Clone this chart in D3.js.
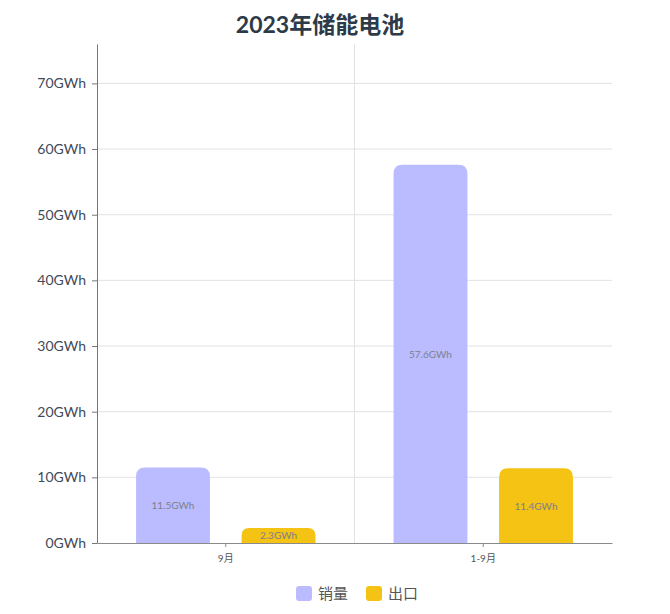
<!DOCTYPE html>
<html>
<head>
<meta charset="utf-8">
<script src="https://cdn.jsdelivr.net/npm/d3@7.9.0/dist/d3.min.js"></script>
<style>
  body { margin: 0; background: #fff; }
  svg { font-family: Lato, "Noto Sans CJK SC", sans-serif; }
</style>
</head>
<body>
<svg id="chart"></svg>
<script>
const categories = ["9月", "1-9月"];
const seriesNames = ["销量", "出口"];
const salesValues = [11.5, 57.6];
const exportValues = [2.3, 11.4];
const yTicks = [0, 10, 20, 30, 40, 50, 60, 70];

const colors = { "销量": "#babcff", "出口": "#f4c314" };

const W = 670, H = 614;
const margin = { top: 44, right: 58, bottom: 71, left: 97 },
      width = W - margin.left - margin.right,
      height = H - margin.top - margin.bottom;

const svgContainer = d3.select("#chart")
    .attr("width", W)
    .attr("height", H);

// Title
svgContainer.append("text")
    .attr("x", 320)
    .attr("y", 33)
    .attr("text-anchor", "middle")
    .style("font-size", "23px")
    .style("font-weight", "bold")
    .style("fill", "#2d3a48")
    .text("2023年储能电池");

const svg = svgContainer.append("g")
    .attr("transform", `translate(${margin.left},${margin.top})`);

const data = categories.map((c, i) => ({ c, "销量": salesValues[i], "出口": exportValues[i] }));

// Scales
const xScale = d3.scaleBand()
    .domain(categories)
    .range([0, width])
    .padding(0);

const yScale = d3.scaleLinear()
    .domain([0, 76])
    .range([height, 0]);

const subgroupScale = d3.scaleBand()
    .domain(seriesNames)
    .range([0, xScale.bandwidth()])
    .paddingInner(0.3)
    .paddingOuter(0.37);

// Horizontal grid
svg.append("g")
    .selectAll("line")
    .data(yTicks.slice(1))
    .enter()
    .append("line")
    .attr("x1", 0)
    .attr("x2", width)
    .attr("y1", d => yScale(d))
    .attr("y2", d => yScale(d))
    .attr("stroke", "#e2e2e2");

// Vertical divider between categories
svg.append("g")
    .selectAll("line")
    .data(categories.slice(1))
    .enter()
    .append("line")
    .attr("x1", d => xScale(d))
    .attr("x2", d => xScale(d))
    .attr("y1", 0)
    .attr("y2", height)
    .attr("stroke", "#e2e2e2");

// Bars with rounded tops
function barPath(x, y, w, h, r) {
    r = Math.min(r, h / 2, w / 2);
    return `M${x},${y + h}V${y + r}Q${x},${y} ${x + r},${y}H${x + w - r}Q${x + w},${y} ${x + w},${y + r}V${y + h}Z`;
}

const groups = svg.selectAll("g.cat")
    .data(data)
    .enter()
    .append("g")
    .attr("class", "cat")
    .attr("transform", d => `translate(${xScale(d.c)},0)`);

const bars = groups.selectAll("g.bar")
    .data(d => seriesNames.map(key => ({ key, value: d[key] })))
    .enter()
    .append("g")
    .attr("class", "bar");

bars.append("path")
    .attr("d", d => barPath(subgroupScale(d.key), yScale(d.value), subgroupScale.bandwidth(),
                            height - yScale(d.value), 9))
    .attr("fill", d => colors[d.key]);

bars.append("text")
    .attr("x", d => subgroupScale(d.key) + subgroupScale.bandwidth() / 2)
    .attr("y", d => (yScale(d.value) + height) / 2 + 4)
    .attr("text-anchor", "middle")
    .style("font-size", "10px")
    .style("fill", "#7d7f8c")
    .text(d => d.value + "GWh");

// X-axis
const xAxis = svg.append("g")
    .attr("transform", `translate(0,${height})`)
    .call(d3.axisBottom(xScale).tickSize(4).tickPadding(8).tickSizeOuter(0));
xAxis.select(".domain").attr("stroke", "#8a8a8a");
xAxis.selectAll(".tick line").attr("stroke", "#8a8a8a");
xAxis.selectAll(".tick text")
    .style("font-size", "10px")
    .style("fill", "#555")
    .style("font-family", "Lato, 'Noto Sans CJK SC', sans-serif");

// Y-axis
const yAxis = svg.append("g")
    .call(d3.axisLeft(yScale).tickValues(yTicks).tickFormat(d => d + "GWh")
        .tickSize(5).tickPadding(6).tickSizeOuter(0));
yAxis.select(".domain").attr("stroke", "#777");
yAxis.selectAll(".tick line").attr("stroke", "#777");
yAxis.selectAll(".tick text")
    .style("font-size", "14px")
    .style("fill", "#3f4a58")
    .style("font-family", "Lato, sans-serif");

// Legend
const legend = svgContainer.append("g")
    .attr("transform", "translate(296,586)");

const legendX = [0, 70];

legend.selectAll("rect")
    .data(seriesNames)
    .enter()
    .append("rect")
    .attr("x", (d, i) => legendX[i])
    .attr("y", 0)
    .attr("width", 16)
    .attr("height", 15)
    .attr("rx", 3)
    .attr("fill", d => colors[d]);

legend.selectAll("text")
    .data(seriesNames)
    .enter()
    .append("text")
    .attr("x", (d, i) => legendX[i] + 22)
    .attr("y", 13)
    .style("font-size", "15px")
    .style("fill", "#555")
    .style("font-family", "'Noto Sans CJK SC', sans-serif")
    .text(d => d);
</script>
</body>
</html>
